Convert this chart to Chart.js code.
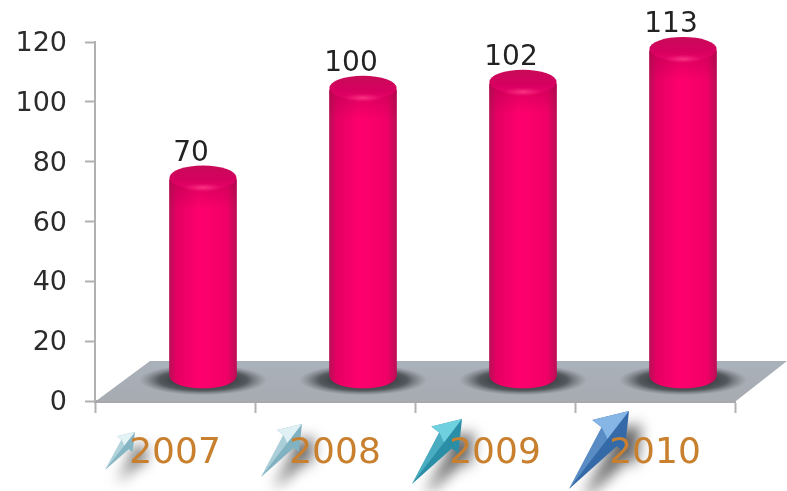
<!DOCTYPE html>
<html>
<head>
<meta charset="utf-8">
<style>
  html, body { margin: 0; padding: 0; background: #fff; }
  canvas { display: block; filter: blur(0.5px); }
</style>
<script src="https://cdn.jsdelivr.net/npm/chart.js@4"></script>
</head>
<body>
<canvas id="chart" width="787" height="491"></canvas>
<script>
// ── Data ──
const years = ["2007", "2008", "2009", "2010"];
const values = [70, 100, 102, 113];
const yTicks = [0, 20, 40, 60, 80, 100, 120];

// ── Look of the fake 3D ──
const DEPTH_X = 28, DEPTH_Y = 12, CAP_RY = 12;
const FONT = '"DejaVu Sans", sans-serif';
const arrows = [
  { tail: [-70, 470], tip: [-40, 432], light: "#e4f3f6", dark: "#86b6c4" },
  { tail: [-74, 477], tip: [-33, 424], light: "#dff1f5", dark: "#80b2c1" },
  { tail: [-83, 484], tip: [-33, 419], light: "#6fd0e0", dark: "#2a8ea6" },
  { tail: [-86, 489], tip: [-26, 411], light: "#86b6e6", dark: "#356aa8" }
];

function drawArrow(ctx, cx, a) {
  const tx = cx + a.tail[0], ty = a.tail[1], px = cx + a.tip[0], py = a.tip[1];
  const dx = px - tx, dy = py - ty, len = Math.hypot(dx, dy);
  const ux = dx / len, uy = dy / len, nx = -uy, ny = ux;
  const at = (along, side) => [px - ux * along + nx * side, py - uy * along + ny * side];
  const wingL = at(len * 0.3, -len * 0.24), wingR = at(len * 0.36, len * 0.22);
  const notchL = at(len * 0.3, -len * 0.12), notchR = at(len * 0.36, len * 0.12);
  const poly = pts => {
    ctx.beginPath();
    pts.forEach((p, i) => i ? ctx.lineTo(p[0], p[1]) : ctx.moveTo(p[0], p[1]));
    ctx.closePath();
  };
  ctx.save();
  ctx.shadowColor = "rgba(0,0,0,.6)";
  ctx.shadowBlur = 14;
  ctx.shadowOffsetX = 12;
  ctx.shadowOffsetY = 13;
  ctx.fillStyle = a.dark;
  poly([[tx, ty], notchR, wingR, [px, py], wingL, notchL]);
  ctx.fill();
  ctx.restore();
  ctx.fillStyle = a.light;
  poly([[px, py], wingL, notchL, at(len * 0.36, 0)]);
  ctx.fill();
  ctx.globalAlpha = 0.45;
  poly([[tx, ty], notchL, at(len * 0.36, 0)]);
  ctx.fill();
  ctx.globalAlpha = 1;
}

const scene3d = {
  id: "scene3d",
  beforeDraw(chart) {
    const { ctx } = chart;
    const x = chart.scales.x;
    ctx.save();
    ctx.fillStyle = "#fff";
    ctx.fillRect(0, 0, chart.width, chart.height);
    years.forEach((y, i) => drawArrow(ctx, x.getPixelForValue(i), arrows[i]));
    ctx.restore();
  },
  beforeDatasetsDraw(chart) {
    const { ctx, chartArea: area, scales } = chart;
    const floorBack = area.bottom - 40, meta = chart.getDatasetMeta(0);
    ctx.save();
    const g = ctx.createLinearGradient(0, floorBack, 0, area.bottom);
    g.addColorStop(0, "#a9b1ba");
    g.addColorStop(1, "#a7abb2");
    ctx.fillStyle = g;
    ctx.beginPath();
    ctx.moveTo(area.left + 1, area.bottom);
    ctx.lineTo(area.left + 55, floorBack);
    ctx.lineTo(area.right + 52, floorBack);
    ctx.lineTo(area.right + 1, area.bottom);
    ctx.closePath();
    ctx.fill();
    // soft shadows on the floor
    ctx.beginPath();
    ctx.rect(0, floorBack, chart.width, area.bottom - floorBack - 3);
    ctx.clip();
    meta.data.forEach(bar => {
      const cx = bar.x + DEPTH_X, cy = scales.y.getPixelForValue(0) - 21;
      ctx.save();
      ctx.translate(cx, cy);
      ctx.scale(1, 0.24);
      const s = ctx.createRadialGradient(0, 0, 20, 0, 0, 64);
      s.addColorStop(0, "rgba(35,40,42,.9)");
      s.addColorStop(0.55, "rgba(50,55,58,.72)");
      s.addColorStop(1, "rgba(90,95,100,0)");
      ctx.fillStyle = s;
      ctx.beginPath();
      ctx.arc(0, 0, 64, 0, Math.PI * 2);
      ctx.fill();
      ctx.restore();
    });
    ctx.restore();
  },
  beforeDatasetDraw(chart) {
    const { ctx } = chart, meta = chart.getDatasetMeta(0);
    ctx.save();
    ctx.translate(DEPTH_X, -DEPTH_Y);
    // round off the foot of each cylinder
    const base = meta.data[0].base - CAP_RY;
    ctx.beginPath();
    ctx.rect(-DEPTH_X, DEPTH_Y, chart.width, base - DEPTH_Y);
    meta.data.forEach(bar => {
      ctx.moveTo(bar.x + bar.width / 2, base);
      ctx.ellipse(bar.x, base, bar.width / 2, CAP_RY, 0, 0, Math.PI * 2);
    });
    ctx.clip();
  },
  afterDatasetDraw(chart) {
    chart.ctx.restore();
  },
  afterDatasetsDraw(chart) {
    const { ctx, scales } = chart, meta = chart.getDatasetMeta(0);
    meta.data.forEach((bar, i) => {
      const cx = bar.x + DEPTH_X, cy = bar.y - DEPTH_Y - 2, rx = bar.width / 2;
      // darker shoulder under the cap
      const sh = ctx.createLinearGradient(0, cy, 0, cy + 32);
      sh.addColorStop(0, "rgba(170,0,70,.5)");
      sh.addColorStop(1, "rgba(170,0,70,0)");
      ctx.fillStyle = sh;
      ctx.fillRect(cx - rx, cy, rx * 2, 32);
      // cap
      const c = ctx.createLinearGradient(0, cy - CAP_RY, 0, cy + CAP_RY);
      c.addColorStop(0, "#c80a58");
      c.addColorStop(0.6, "#d60060");
      c.addColorStop(1, "#e8046a");
      ctx.fillStyle = c;
      ctx.beginPath();
      ctx.ellipse(cx, cy, rx, CAP_RY, 0, 0, Math.PI * 2);
      ctx.fill();
      // highlight at the cap's near edge
      ctx.save();
      ctx.translate(cx, cy + CAP_RY - 2);
      ctx.scale(1, 0.22);
      const h = ctx.createRadialGradient(0, 0, 0, 0, 0, 20);
      h.addColorStop(0, "rgba(255,70,140,.75)");
      h.addColorStop(1, "rgba(255,40,120,0)");
      ctx.fillStyle = h;
      ctx.beginPath();
      ctx.arc(0, 0, 20, 0, Math.PI * 2);
      ctx.fill();
      ctx.restore();
      // value label
      ctx.fillStyle = "#222";
      ctx.font = "28px " + FONT;
      ctx.textAlign = "center";
      ctx.textBaseline = "middle";
      ctx.fillText(values[i], bar.x + 16, scales.y.getPixelForValue(values[i]) - 38);
    });
  }
};

// ── Chart ──
const canvas = document.getElementById("chart");
const cylinderFill = canvas.getContext("2d");

new Chart(canvas, {
  type: "bar",
  data: {
    labels: years,
    datasets: [{
      label: "Value",
      data: values,
      barThickness: 67,
      backgroundColor(ctx) {
        const x = ctx.chart.scales.x;
        const cx = x && ctx.dataIndex !== undefined ? x.getPixelForValue(ctx.dataIndex) : NaN;
        if (!Number.isFinite(cx)) return "#f5006a";
        const g = cylinderFill.createLinearGradient(cx - 33.5, 0, cx + 33.5, 0);
        g.addColorStop(0, "#b80f55");
        g.addColorStop(0.1, "#e40064");
        g.addColorStop(0.45, "#ff006e");
        g.addColorStop(0.85, "#f20068");
        g.addColorStop(1, "#bc0e56");
        return g;
      }
    }]
  },
  options: {
    responsive: false,
    animation: false,
    layout: { padding: { top: 42, right: 52, left: 0, bottom: 0 } },
    plugins: { legend: { display: false }, tooltip: { enabled: false } },
    scales: {
      x: {
        afterFit(scale) { scale.height = 90; },
        grid: { drawOnChartArea: false, tickLength: 12, tickColor: "#b0b0b0", tickWidth: 2 },
        border: { color: "#a8a8a8", width: 3 },
        ticks: { color: "#c8802e", font: { family: FONT, size: 36 }, padding: 19, maxRotation: 0 }
      },
      y: {
        min: 0,
        max: 120,
        afterFit(scale) { scale.width = 95; },
        afterBuildTicks(scale) { scale.ticks = yTicks.map(v => ({ value: v })); },
        grid: { drawOnChartArea: false, tickLength: 10, tickColor: "#b0b0b0", tickWidth: 2 },
        border: { color: "#b0b0b0", width: 2 },
        ticks: { color: "#2b2b2b", font: { family: FONT, size: 27 }, padding: 18, labelOffset: 2 }
      }
    }
  },
  plugins: [scene3d]
});
</script>
</body>
</html>
